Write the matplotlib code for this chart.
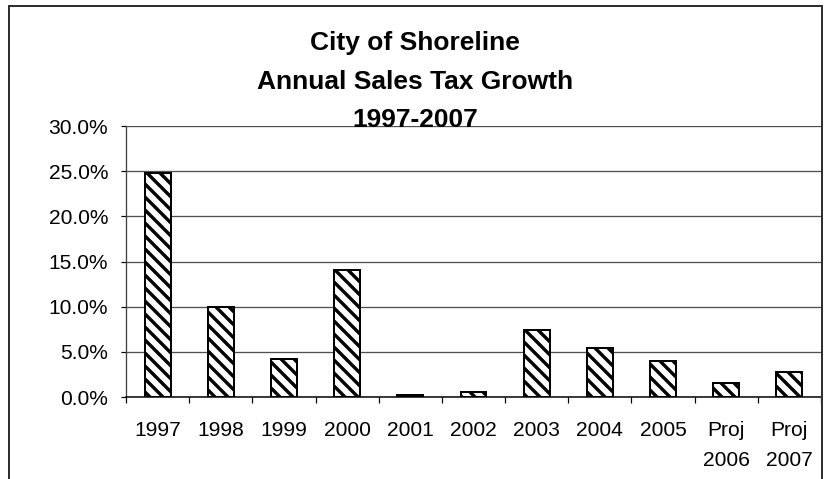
import matplotlib
matplotlib.use("Agg")
import matplotlib.pyplot as plt
from matplotlib.ticker import FuncFormatter, FixedLocator
from matplotlib.lines import Line2D
import numpy as np

DPI = 78


def pt(px):
    return px * 72.0 / DPI


plt.rcParams['font.family'] = ['Liberation Sans', 'DejaVu Sans']
plt.rcParams['hatch.linewidth'] = pt(3.4)
plt.rcParams['hatch.color'] = 'black'

categories = ["1997", "1998", "1999", "2000", "2001", "2002", "2003", "2004", "2005",
              "Proj\n2006", "Proj\n2007"]
growth = [0.248, 0.100, 0.042, 0.141, 0.002, 0.006, 0.074, 0.054, 0.040, 0.016, 0.028]
title_lines = ["City of Shoreline", "Annual Sales Tax Growth", "1997-2007"]
y_ticks = [0.0, 0.05, 0.10, 0.15, 0.20, 0.25, 0.30]

W, H = 826, 479
fig = plt.figure(figsize=(W / DPI, H / DPI), dpi=DPI)
fig.patch.set_facecolor('white')

left, right, top, bottom = 126, 821, 126, 397
ax = fig.add_axes([left / W, 1 - bottom / H, (right - left) / W, (bottom - top) / H])

x = np.arange(len(categories))
ax.bar(x, growth, width=0.41, color='white', edgecolor='black', linewidth=pt(2),
       hatch='\\\\', zorder=3)

ax.set_xlim(-0.5, len(categories) - 0.5)
ax.set_ylim(0, 0.30)
ax.set_yticks(y_ticks)
ax.yaxis.set_major_formatter(FuncFormatter(lambda v, p: f"{v*100:.1f}%"))
ax.set_xticks(x)
ax.set_xticklabels(categories, linespacing=1.7)
ax.xaxis.set_minor_locator(FixedLocator(np.arange(-0.5, len(categories), 1.0)))
ax.tick_params(axis='x', which='major', length=0, pad=pt(24), labelsize=pt(21))
ax.tick_params(axis='x', which='minor', length=pt(6), width=pt(1.2), color='black')
ax.tick_params(axis='y', length=pt(5), width=pt(1.2), pad=pt(13), labelsize=pt(21),
               color='black')

ax.grid(axis='y', color='#505050', linewidth=pt(1.3), zorder=0)
ax.set_axisbelow(True)
for s in ['top', 'right']:
    ax.spines[s].set_visible(False)
ax.spines['left'].set_color('#404040')
ax.spines['left'].set_linewidth(pt(1.3))
ax.spines['bottom'].set_color('black')
ax.spines['bottom'].set_linewidth(pt(1.5))

# outer chart border (left, top, right)
bx0, by0, bx1 = 9 / W, 1 - 6 / H, 821.5 / W
for xs, ys in [([bx0, bx0], [0, by0]), ([bx0, bx1], [by0, by0]), ([bx1, bx1], [0, by0])]:
    fig.add_artist(Line2D(xs, ys, color='#303030', lw=pt(2), transform=fig.transFigure))

cx = 415 / W
baselines = [50, 89, 127]
for txt, b in zip(title_lines, baselines):
    fig.text(cx, 1 - b / H, txt, ha='center', va='baseline', fontsize=pt(26.4),
             fontweight='bold', color='black')

fig.savefig("out.png", dpi=DPI)
